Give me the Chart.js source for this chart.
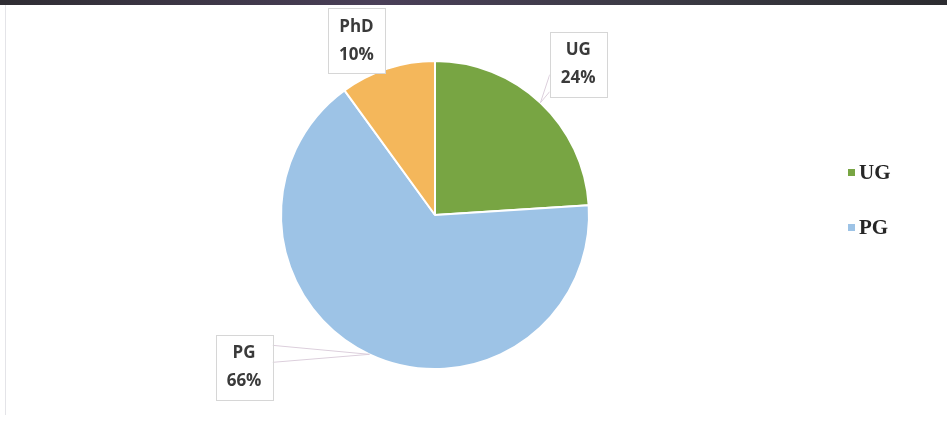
<!DOCTYPE html>
<html>
<head>
<meta charset="utf-8">
<script src="https://cdn.jsdelivr.net/npm/chart.js@4.4.1/dist/chart.umd.min.js"></script>
<style>
  html,body{margin:0;padding:0;background:#fff;}
  #wrap{position:relative;width:947px;height:423px;overflow:hidden;}
  #topbar{position:absolute;left:0;top:0;width:947px;height:5px;background:linear-gradient(90deg,#2f2d33,#4a3f58 40%,#3b3a44 70%,#2c2c30);}
  #leftline{position:absolute;left:5px;top:5px;width:1px;height:410px;background:#e4e4e8;}
  canvas{position:absolute;left:0;top:0;}
</style>
</head>
<body>
<div id="wrap">
  <canvas id="pie" width="947" height="423"></canvas>
  <div id="topbar"></div>
  <div id="leftline"></div>
</div>
<script>
// Data
const categories=['UG','PG','PhD'];
const shares=[24,66,10];
const sliceColors=['#78a543','#9dc3e6','#f4b75b'];
const legendItems=['UG','PG'];

// label box placement relative to pie centre (in radius units), pointer on/off
const labelPos={
  UG:{dx:0.93,dy:-0.98,pointer:true},
  PG:{dx:-1.24,dy:0.99,pointer:true},
  PhD:{dx:-0.51,dy:-1.13,pointer:false}
};

// Callout labels + legend
const calloutPlugin={
  id:'callouts',
  afterDatasetsDraw(chart){
    const c=chart.ctx, meta=chart.getDatasetMeta(0);
    const total=shares.reduce((a,b)=>a+b,0);
    meta.data.forEach((arc,i)=>{
      const p=arc.getProps(['x','y','startAngle','endAngle','outerRadius'],true);
      const name=categories[i], pos=labelPos[name];
      const mid=(p.startAngle+p.endAngle)/2;
      const tx=p.x+Math.cos(mid)*p.outerRadius, ty=p.y+Math.sin(mid)*p.outerRadius;
      const bw=57,bh=65;
      const cx=p.x+pos.dx*p.outerRadius, cy=p.y+pos.dy*p.outerRadius;
      const l=cx-bw/2,t=cy-bh/2,r=cx+bw/2,b=cy+bh/2;
      if(pos.pointer){
        let ax,ay,bx,by;
        if(tx<l||tx>r){
          const sx=tx<l?l:r;
          const yc=Math.min(Math.max(ty,t+13),b-13);
          ax=sx;ay=yc-9;bx=sx;by=yc+8;
        }else{
          const sy=ty<t?t:b;
          const xc=Math.min(Math.max(tx,l+13),r-13);
          ax=xc-9;ay=sy;bx=xc+8;by=sy;
        }
        c.save();c.strokeStyle='#dccfdc';c.lineWidth=1;
        c.beginPath();c.moveTo(ax,ay);c.lineTo(tx,ty);c.lineTo(bx,by);c.stroke();c.restore();
      }
      c.save();
      c.fillStyle='#fff';c.fillRect(l,t,bw,bh);
      c.strokeStyle='#d6d6d6';c.lineWidth=1;c.strokeRect(Math.round(l)+0.5,Math.round(t)+0.5,bw,bh);
      c.fillStyle='#3a3a3a';c.font='bold 17px "Open Sans", "Liberation Sans", sans-serif';
      c.textAlign='center';c.textBaseline='middle';
      c.fillText(name,cx,cy-14);
      c.fillText(Math.round(shares[i]/total*100)+'%',cx,cy+14);
      c.restore();
    });
    // legend
    c.save();
    c.font='bold 21px "Liberation Serif", "DejaVu Serif", serif';
    c.textBaseline='middle';c.textAlign='left';
    legendItems.forEach((name,k)=>{
      const idx=categories.indexOf(name);
      const y=173+k*55;
      c.fillStyle=sliceColors[idx];c.fillRect(848,y-4,7,7);
      c.fillStyle='#262626';c.fillText(name,859,y+1);
    });
    c.restore();
  }
};

new Chart(document.getElementById('pie'),{
  type:'pie',
  data:{labels:categories,datasets:[{data:shares,backgroundColor:sliceColors,borderColor:'#ffffff',borderWidth:2}]},
  options:{
    responsive:false,animation:false,
    layout:{padding:{top:60,bottom:53,left:0,right:77}},
    plugins:{legend:{display:false},tooltip:{enabled:false}}
  },
  plugins:[calloutPlugin]
});
</script>
</body>
</html>
